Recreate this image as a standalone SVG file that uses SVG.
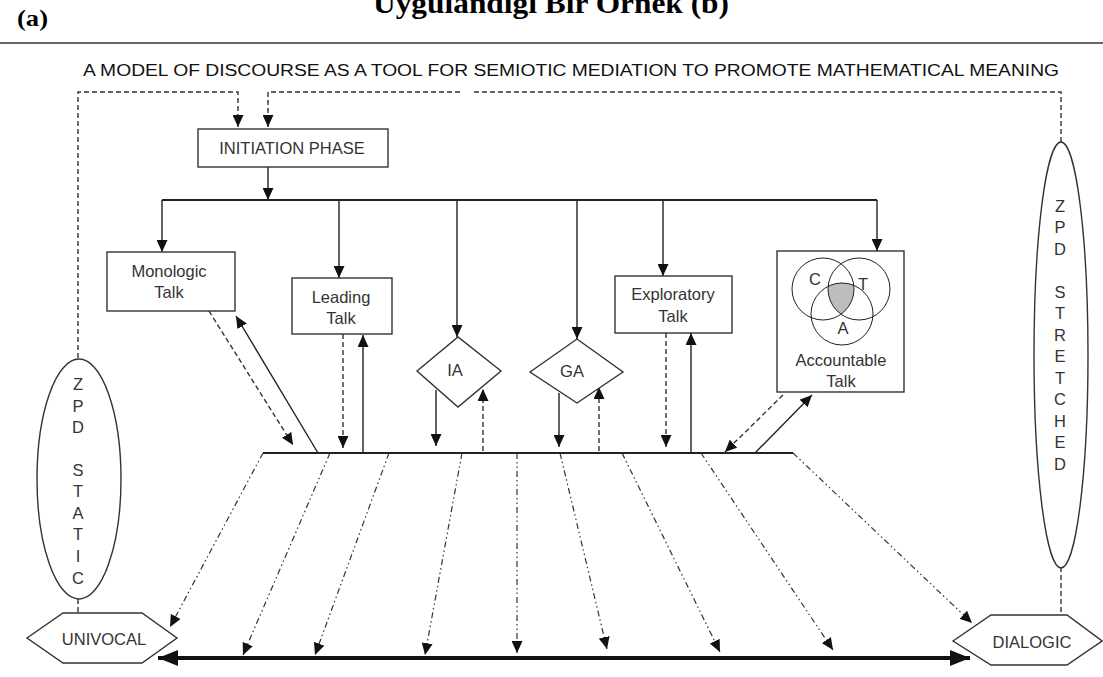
<svg xmlns="http://www.w3.org/2000/svg" width="1103" height="677" viewBox="0 0 1103 677">
<style>
.hd{font-family:"Liberation Serif","Times New Roman",serif;font-weight:bold;fill:#000}
.t{font-family:"Liberation Sans",Arial,sans-serif;font-size:16.5px;fill:#333;text-anchor:middle}
.box{fill:#fff;stroke:#333;stroke-width:1.4}
.ln{fill:none;stroke:#222;stroke-width:1.4}
.dash{fill:none;stroke:#333;stroke-width:1.4;stroke-dasharray:5 3}
.dd{fill:none;stroke:#333;stroke-width:1.2;stroke-dasharray:6 3 1.5 3 1.5 3}
</style>
<defs>
<marker id="ah" markerUnits="userSpaceOnUse" markerWidth="12" markerHeight="11" refX="12" refY="5.5" orient="auto"><path d="M0,0 L12,5.5 L0,11 z" fill="#111"/></marker>
<marker id="big" markerUnits="userSpaceOnUse" markerWidth="20" markerHeight="16" refX="20" refY="8" orient="auto-start-reverse"><path d="M0,0 L20,8 L0,16 z" fill="#111"/></marker>
<clipPath id="cC"><circle cx="823" cy="289" r="31"/></clipPath>
<clipPath id="cT"><circle cx="859" cy="289" r="31"/></clipPath>
</defs>
<rect width="1103" height="677" fill="#fff"/>
<text class="hd" x="373" y="13" font-size="30" textLength="356" lengthAdjust="spacingAndGlyphs">Uygulandığı Bir Örnek (b)</text>
<text class="hd" x="17" y="26" font-size="24" textLength="31" lengthAdjust="spacingAndGlyphs">(a)</text>
<line x1="0" y1="43" x2="1103" y2="43" stroke="#333" stroke-width="1.6"/>
<text x="83" y="76" font-family="Liberation Sans, Arial, sans-serif" font-size="16" fill="#111" textLength="976" lengthAdjust="spacingAndGlyphs">A MODEL OF DISCOURSE AS A TOOL FOR SEMIOTIC MEDIATION TO PROMOTE MATHEMATICAL MEANING</text>

<g id="connectors">
<path class="dash" d="M78,358 V92 H238 V127" marker-end="url(#ah)"/>
<path class="dash" d="M1061,142 V92 H472"/>
<path class="dash" d="M460,92 H268 V127" marker-end="url(#ah)"/>
<line class="dash" x1="78" y1="599" x2="78" y2="613"/>
<line class="dash" x1="1061" y1="567" x2="1061" y2="615"/>
<line class="ln" x1="268" y1="167" x2="268" y2="200" marker-end="url(#ah)"/>
<line x1="162" y1="200" x2="877" y2="200" stroke="#222" stroke-width="2"/>
<line class="ln" x1="162" y1="200" x2="162" y2="252" marker-end="url(#ah)"/>
<line class="ln" x1="339" y1="200" x2="339" y2="278" marker-end="url(#ah)"/>
<line class="ln" x1="457" y1="200" x2="457" y2="337" marker-end="url(#ah)"/>
<line class="ln" x1="577" y1="200" x2="577" y2="339" marker-end="url(#ah)"/>
<line class="ln" x1="663" y1="200" x2="663" y2="276" marker-end="url(#ah)"/>
<line class="ln" x1="877" y1="200" x2="877" y2="251" marker-end="url(#ah)"/>
<line x1="263" y1="453" x2="793" y2="453" stroke="#222" stroke-width="2"/>
<line class="dash" x1="209" y1="311" x2="293" y2="445" marker-end="url(#ah)"/>
<line class="ln" x1="318" y1="453" x2="236" y2="316" marker-end="url(#ah)"/>
<line class="dash" x1="343" y1="334" x2="343" y2="448" marker-end="url(#ah)"/>
<line class="ln" x1="363" y1="453" x2="363" y2="335" marker-end="url(#ah)"/>
<line class="ln" x1="436" y1="390" x2="436" y2="446" marker-end="url(#ah)"/>
<line class="dash" x1="483" y1="451" x2="483" y2="389" marker-end="url(#ah)"/>
<line class="ln" x1="559" y1="393" x2="559" y2="447" marker-end="url(#ah)"/>
<line class="dash" x1="599" y1="451" x2="599" y2="387" marker-end="url(#ah)"/>
<line class="dash" x1="666" y1="333" x2="666" y2="447" marker-end="url(#ah)"/>
<line class="ln" x1="691" y1="453" x2="691" y2="333" marker-end="url(#ah)"/>
<line class="dash" x1="783" y1="395" x2="725" y2="452" marker-end="url(#ah)"/>
<line class="ln" x1="755" y1="453" x2="812" y2="395" marker-end="url(#ah)"/>
<line class="dd" x1="263" y1="453" x2="170" y2="627" marker-end="url(#ah)"/>
<line class="dd" x1="330" y1="453" x2="243" y2="655" marker-end="url(#ah)"/>
<line class="dd" x1="389" y1="453" x2="315" y2="655" marker-end="url(#ah)"/>
<line class="dd" x1="462" y1="453" x2="425" y2="655" marker-end="url(#ah)"/>
<line class="dd" x1="517" y1="453" x2="517" y2="653" marker-end="url(#ah)"/>
<line class="dd" x1="560" y1="453" x2="607" y2="649" marker-end="url(#ah)"/>
<line class="dd" x1="622" y1="453" x2="720" y2="652" marker-end="url(#ah)"/>
<line class="dd" x1="701" y1="453" x2="833" y2="650" marker-end="url(#ah)"/>
<line class="dd" x1="793" y1="453" x2="972" y2="623" marker-end="url(#ah)"/>
<line x1="158" y1="658" x2="970" y2="658" stroke="#111" stroke-width="4" marker-start="url(#big)" marker-end="url(#big)"/>
</g>

<g id="initiation">
<rect class="box" x="198" y="129" width="190" height="38"/>
<text class="t" x="292" y="154" font-size="18.5">INITIATION PHASE</text>
</g>
<g id="monologic">
<rect class="box" x="107" y="252" width="128" height="59"/>
<text class="t" x="169" y="277">Monologic</text>
<text class="t" x="169" y="298">Talk</text>
</g>
<g id="leading">
<rect class="box" x="292" y="278" width="100" height="56"/>
<text class="t" x="341" y="303">Leading</text>
<text class="t" x="341" y="324">Talk</text>
</g>
<g id="ia">
<polygon class="box" points="417,371 458,337 501,371 458,407"/>
<text class="t" x="455" y="376">IA</text>
</g>
<g id="ga">
<polygon class="box" points="530,372 577,339 623,372 577,403"/>
<text class="t" x="572" y="377">GA</text>
</g>
<g id="exploratory">
<rect class="box" x="615" y="276" width="117" height="57"/>
<text class="t" x="673" y="300">Exploratory</text>
<text class="t" x="673" y="322">Talk</text>
</g>
<g id="accountable">
<rect class="box" x="777" y="251" width="127" height="141"/>
<g clip-path="url(#cC)"><circle cx="842" cy="314" r="31" fill="#bdbdbd" clip-path="url(#cT)"/></g>
<circle cx="823" cy="289" r="31" fill="none" stroke="#222" stroke-width="1"/>
<circle cx="859" cy="289" r="31" fill="none" stroke="#222" stroke-width="1"/>
<circle cx="842" cy="314" r="31" fill="none" stroke="#222" stroke-width="1"/>
<text class="t" x="815" y="285" font-size="15">C</text>
<text class="t" x="863" y="290" font-size="15">T</text>
<text class="t" x="843" y="334" font-size="15">A</text>
<text class="t" x="841" y="366">Accountable</text>
<text class="t" x="841" y="387">Talk</text>
</g>
<g id="zpd-static">
<ellipse class="box" cx="79" cy="479" rx="42" ry="120"/>
<g class="t" font-size="16"><text x="78" y="390">Z</text><text x="78" y="412">P</text><text x="78" y="433">D</text><text x="78" y="476">S</text><text x="78" y="497">T</text><text x="78" y="519">A</text><text x="78" y="540">T</text><text x="78" y="562">I</text><text x="78" y="584">C</text></g>
</g>
<g id="zpd-stretched">
<ellipse class="box" cx="1061" cy="355" rx="27" ry="213"/>
<g class="t" font-size="16"><text x="1060" y="212">Z</text><text x="1060" y="233">P</text><text x="1060" y="255">D</text><text x="1060" y="298">S</text><text x="1060" y="319">T</text><text x="1060" y="341">R</text><text x="1060" y="362">E</text><text x="1060" y="384">T</text><text x="1060" y="405">C</text><text x="1060" y="427">H</text><text x="1060" y="448">E</text><text x="1060" y="470">D</text></g>
</g>
<g id="univocal">
<polygon class="box" points="27,638 63,613 142,613 177,638 142,663 63,663"/>
<text class="t" x="104" y="645" font-size="18">UNIVOCAL</text>
</g>
<g id="dialogic">
<polygon class="box" points="953,641 991,615 1067,615 1102,641 1067,665 991,665"/>
<text class="t" x="1032" y="648" font-size="18">DIALOGIC</text>
</g>
</svg>
